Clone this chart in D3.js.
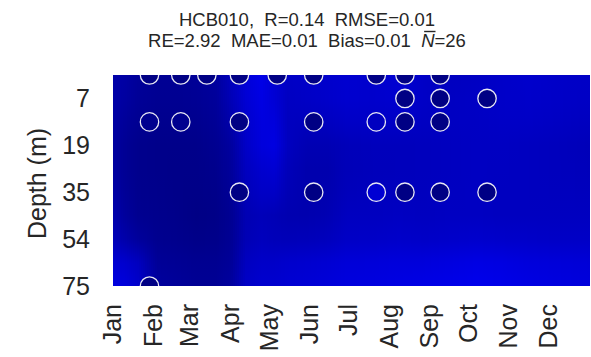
<!DOCTYPE html>
<html>
<head>
<meta charset="utf-8">
<script src="https://cdn.jsdelivr.net/npm/d3@7"></script>
<style>
  html, body { margin: 0; padding: 0; background: #fff; }
  svg { display: block; }
  text { font-family: "Liberation Sans", Arial, Helvetica, sans-serif; fill: #262626; white-space: pre; }
</style>
</head>
<body>
<svg id="chart" width="591" height="357"></svg>
<script>
// ---------- data ----------
const titleLine1 = "HCB010,  R=0.14  RMSE=0.01";
const titleLine2a = "RE=2.92  MAE=0.01  Bias=0.01  ";
const titleLine2N = "N";
const titleLine2b = "=26";

const monthLabels = ["Jan","Feb","Mar","Apr","May","Jun","Jul","Aug","Sep","Oct","Nov","Dec"];
const monthStartDays = [1, 32, 60, 91, 121, 152, 182, 213, 244, 274, 305, 335];

const depthLevels = [1, 7, 13, 19, 27, 35, 44, 54, 64, 75];   // model levels (m)
const depthTickLevels = [1, 3, 5, 7, 9];                      // indices labelled
const depthTickLabels = ["7", "19", "35", "54", "75"];

// model field: time nodes (day of year) x depth levels
const gridDays = [1, 10, 20, 35, 50, 65, 80, 92, 103, 115, 125, 135, 150, 165, 180, 200, 220, 240, 260, 280, 300, 320, 340, 366];
const level0 = [33, 28, 20, 16, 16, 18, 24, 48, 70, 82, 64, 55, 57, 60, 63, 60, 65, 55, 50, 52, 57, 60, 57, 55];
const level1 = [31, 26, 18, 14, 14, 16, 21, 44, 66, 78, 66, 52, 55, 58, 62, 60, 62, 55, 52, 54, 57, 58, 56, 54];
const level2 = [28, 20, 14, 11, 11, 12, 17, 35, 60, 74, 72, 50, 48, 50, 55, 55, 55, 52, 52, 53, 55, 55, 53, 50];
const level3 = [25, 16, 10,  8,  8,  8, 13, 25, 56, 72, 76, 50, 40, 40, 45, 47, 47, 48, 50, 52, 52, 50, 48, 45];
const level4 = [26, 16, 10,  8,  7,  7, 10, 22, 50, 62, 65, 45, 36, 36, 44, 46, 47, 48, 50, 52, 51, 50, 48, 46];
const level5 = [30, 18, 11,  9,  7,  6,  8, 18, 45, 55, 55, 42, 36, 37, 46, 48, 49, 49, 51, 52, 50, 50, 49, 48];
const level6 = [36, 22, 13, 10,  8,  4,  6, 15, 40, 45, 42, 38, 37, 40, 50, 50, 52, 50, 52, 52, 50, 50, 50, 50];
const level7 = [45, 33, 22, 12, 10,  7,  8, 16, 42, 48, 45, 44, 45, 48, 55, 56, 58, 56, 58, 60, 58, 57, 55, 55];
const level8 = [65, 60, 50, 18, 16, 13, 13, 20, 50, 57, 57, 60, 62, 65, 69, 70, 72, 72, 75, 78, 76, 72, 70, 68];
const level9 = [75, 72, 60, 24, 20, 16, 16, 24, 55, 62, 62, 65, 67, 70, 74, 75, 78, 80, 82, 85, 82, 78, 75, 72];
const gridValues = [level0, level1, level2, level3, level4, level5, level6, level7, level8, level9];

// observations
const obsDay   = [29, 53, 73, 98, 127, 155, 203, 225, 252,  225, 252, 288,  29, 53, 98, 155, 203, 225, 252,  98, 155, 203, 225, 252, 288,  29];
const obsLevel = [ 0,  0,  0,  0,   0,   0,   0,   0,   0,    1,   1,   1,   2,  2,  2,   2,   2,   2,   2,   5,   5,   5,   5,   5,   5,   9];
const obsValue = [ 3,  3,  3,  3,   3,   3,   4,   3,   3,    3,   3,   3,  12, 12,  3,   3,  50,   3,   3,   3,   3,  65,   3,   3,   3,   3];

// ---------- layout ----------
const svg = d3.select("#chart");
const plot = { left: 113, right: 590, top: 75, bottom: 286 };

const x = d3.scaleLinear().domain([1, 367]).range([plot.left, plot.right]);
const y = d3.scaleLinear().domain([0, depthLevels.length - 1]).range([plot.top, plot.bottom]);
const color = d3.scaleLinear().domain([0, 100, 300]).range(["#000080", "#0000ff", "#00ffff"]).clamp(true);

const defs = svg.append("defs");
defs.append("clipPath").attr("id", "plotClip")
  .append("rect").attr("x", plot.left).attr("y", plot.top)
  .attr("width", plot.right - plot.left).attr("height", plot.bottom - plot.top);

// ---------- heatmap (interpolated shading) ----------
const bis = d3.bisector(d => d).right;
function valueAt(row, day) {
  let i = bis(gridDays, day) - 1;
  i = Math.max(0, Math.min(gridDays.length - 2, i));
  const t = (day - gridDays[i]) / (gridDays[i + 1] - gridDays[i]);
  return row[i] * (1 - t) + row[i + 1] * t;
}
const stripW = 2;
const strips = d3.range(plot.left, plot.right, stripW);
const heat = svg.append("g").attr("clip-path", "url(#plotClip)");
strips.forEach((px, k) => {
  const day = x.invert(px + stripW / 2);
  const gid = "g" + k;
  const grad = defs.append("linearGradient").attr("id", gid)
    .attr("x1", 0).attr("y1", 0).attr("x2", 0).attr("y2", 1);
  gridValues.forEach((row, li) => {
    grad.append("stop").attr("offset", li / (gridValues.length - 1))
      .attr("stop-color", color(valueAt(row, day)));
  });
  heat.append("rect").attr("x", px).attr("y", y(0))
    .attr("width", stripW + 0.6).attr("height", y(depthLevels.length - 1) - y(0))
    .attr("fill", `url(#${gid})`);
});

// ---------- observations ----------
const obs = obsDay.map((d, i) => ({ day: d, level: obsLevel[i], value: obsValue[i] }));
svg.append("g").attr("clip-path", "url(#plotClip)")
  .selectAll("circle").data(obs).join("circle")
  .attr("cx", d => x(d.day)).attr("cy", d => y(d.level)).attr("r", 9.2)
  .attr("fill", d => color(d.value))
  .attr("stroke", "#e8e8f4").attr("stroke-width", 1.3);

// ---------- axes ----------
const yAxis = d3.axisLeft(y).tickValues(depthTickLevels)
  .tickFormat((d, i) => depthTickLabels[i]).tickSize(0).tickPadding(0);
const gy = svg.append("g").attr("transform", `translate(${plot.left - 23},0)`).call(yAxis);
gy.select(".domain").remove();
gy.selectAll("text").attr("font-size", 25).attr("fill", "#262626")
  .style("font-family", '"Liberation Sans", Arial, sans-serif');

const xAxis = d3.axisBottom(x).tickValues(monthStartDays)
  .tickFormat((d, i) => monthLabels[i]).tickSize(0).tickPadding(0);
const gx = svg.append("g").attr("transform", `translate(0,${plot.bottom})`).call(xAxis);
gx.select(".domain").remove();
gx.selectAll("text").attr("font-size", 25).attr("fill", "#262626")
  .style("font-family", '"Liberation Sans", Arial, sans-serif')
  .attr("text-anchor", "end")
  .attr("transform", "rotate(-90)")
  .attr("x", -18).attr("y", -1).attr("dy", "0.35em");

svg.append("text")
  .attr("transform", `translate(46,${(plot.top + plot.bottom) / 2 + 3}) rotate(-90)`)
  .attr("text-anchor", "middle").attr("font-size", 25)
  .text("Depth (m)");

// ---------- title ----------
const tx = 307;
svg.append("text").attr("x", tx).attr("y", 26).attr("text-anchor", "middle")
  .attr("font-size", 18.5).text(titleLine1);
const t2 = svg.append("text").attr("x", tx).attr("y", 47).attr("text-anchor", "middle")
  .attr("font-size", 18.5);
t2.append("tspan").text(titleLine2a);
t2.append("tspan").attr("font-style", "italic").text(titleLine2N);
t2.append("tspan").text(titleLine2b);
// overbar on N
const nStart = titleLine2a.length;
const p0 = t2.node().getStartPositionOfChar(nStart);
const p1 = t2.node().getEndPositionOfChar(nStart);
svg.append("line")
  .attr("x1", p0.x + 3).attr("x2", p1.x + 1)
  .attr("y1", 31.5).attr("y2", 31.5)
  .attr("stroke", "#262626").attr("stroke-width", 1.4);
</script>
</body>
</html>
